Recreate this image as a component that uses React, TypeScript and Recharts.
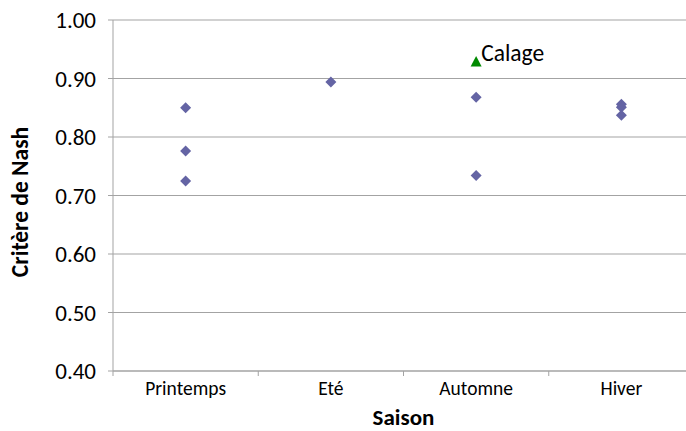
import React from 'react';
import { ScatterChart, Scatter, XAxis, YAxis, CartesianGrid, Label } from 'recharts';

// chart values
const seasons = ['Printemps', 'Eté', 'Automne', 'Hiver'];
const nashPrintemps = [0.85, 0.776, 0.725];
const nashEte = [0.894];
const nashAutomne = [0.868, 0.734];
const nashHiver = [0.856, 0.851, 0.837];
const calageSeason = 'Automne';
const calageValue = 0.929;
const yTicks = [0.4, 0.5, 0.6, 0.7, 0.8, 0.9, 1.0];
const xBounds = [0, 1, 2, 3, 4];

const CHART_W = 694;
const CHART_H = 431;
const Y_AXIS_W = 113;
const BAND = (CHART_W - Y_AXIS_W) / seasons.length;

const FONT = 'Carlito, Lato, sans-serif';
const GRID = '#a3a3a3';
const BLUE = '#6464a4';
const GREEN = '#008a00';

const bySeason: [string, number[]][] = [
  ['Printemps', nashPrintemps],
  ['Eté', nashEte],
  ['Automne', nashAutomne],
  ['Hiver', nashHiver],
];

const seasonPoints = bySeason.flatMap(([s, vals]) =>
  vals.map((v) => ({ x: seasons.indexOf(s) + 0.5, y: v }))
);
const calagePoints = [{ x: seasons.indexOf(calageSeason) + 0.5, y: calageValue, name: 'Calage' }];

const Diamond = (props: any) => {
  const { cx, cy } = props;
  const r = 5.5;
  return <path d={`M${cx},${cy - r}L${cx + r},${cy}L${cx},${cy + r}L${cx - r},${cy}Z`} fill={BLUE} />;
};

const Triangle = (props: any) => {
  const { cx, cy, payload } = props;
  return (
    <g>
      <path d={`M${cx},${cy - 5.5}L${cx + 5.5},${cy + 5}L${cx - 5.5},${cy + 5}Z`} fill={GREEN} />
      <text x={cx + 5} y={cy - 1} fontSize={23.5} fontFamily={FONT} fill="#000">
        {payload.name}
      </text>
    </g>
  );
};

// labels sit in the middle of each category, tick marks on the boundaries
const SeasonTick = (props: any) => {
  const { x, y, payload } = props;
  const name = seasons[payload.value];
  if (!name) return null;
  return (
    <text x={x + BAND / 2} y={y + 17} textAnchor="middle" fontSize={19.5} fontFamily={FONT} fill="#000">
      {name}
    </text>
  );
};

const YTitle = () => (
  <text
    x={20}
    y={202}
    transform="rotate(-90 20 202)"
    textAnchor="middle"
    dominantBaseline="central"
    fontSize={23.5}
    fontWeight="bold"
    fontFamily={FONT}
    fill="#000"
  >
    Critère de Nash
  </text>
);

export default function App() {
  return (
    <div style={{ position: 'fixed', left: 0, top: 0, width: 686, height: 431, overflow: 'hidden', background: '#fff' }}>
      <ScatterChart width={CHART_W} height={CHART_H} margin={{ top: 20, right: 0, bottom: 0, left: 0 }}>
        <CartesianGrid horizontal vertical={false} stroke={GRID} />
        <XAxis
          type="number"
          dataKey="x"
          domain={[0, 4]}
          ticks={xBounds}
          height={60}
          axisLine={{ stroke: GRID }}
          tickLine={{ stroke: GRID }}
          tickSize={5}
          tick={<SeasonTick />}
          interval={0}
        >
          <Label
            value="Saison"
            position="insideBottom"
            offset={6}
            style={{ fontSize: 23, fontWeight: 'bold', fontFamily: FONT, fill: '#000' }}
          />
        </XAxis>
        <YAxis
          type="number"
          dataKey="y"
          domain={[0.4, 1.0]}
          ticks={yTicks}
          width={Y_AXIS_W}
          axisLine={{ stroke: GRID }}
          tickLine={{ stroke: GRID }}
          tickSize={5}
          tickMargin={12}
          tickFormatter={(v: number) => v.toFixed(2)}
          tick={{ fontSize: 23, fontFamily: FONT, fill: '#000' }}
          label={<YTitle />}
        />
        <Scatter data={seasonPoints} shape={Diamond} isAnimationActive={false} />
        <Scatter data={calagePoints} shape={Triangle} isAnimationActive={false} />
      </ScatterChart>
    </div>
  );
}
